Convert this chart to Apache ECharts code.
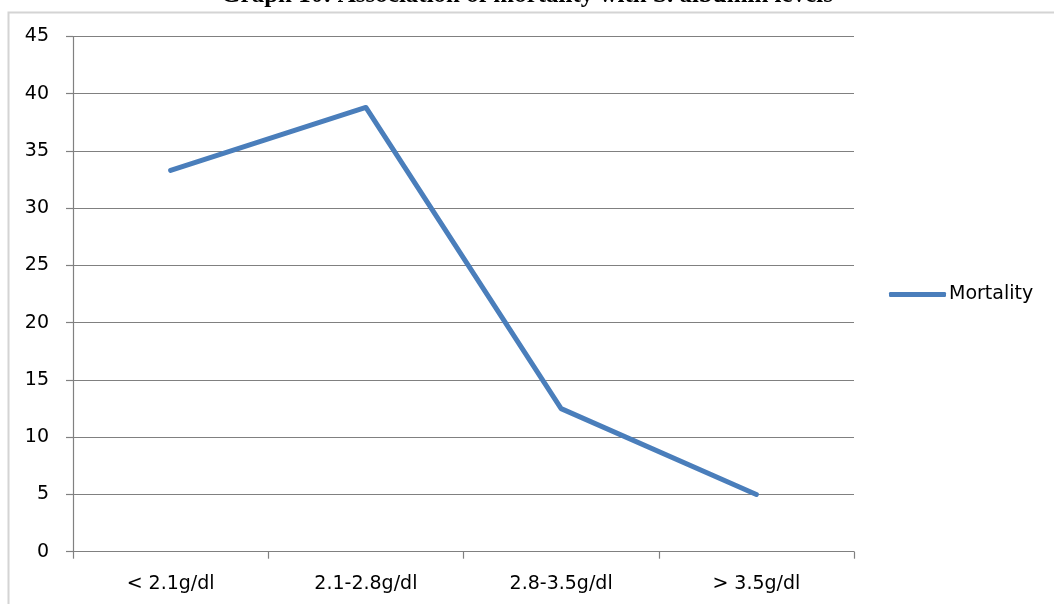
<!DOCTYPE html>
<html>
<head>
<meta charset="utf-8">
<script src="https://cdn.jsdelivr.net/npm/echarts@6/dist/echarts.min.js"></script>
<style>html,body{margin:0;padding:0;background:#fff;}#c{width:1054px;height:604px;}</style>
</head>
<body>
<div id="c"></div>
<script>
var titleText = 'Graph 10: Association of mortality with S. albumin levels';
var categories = ['< 2.1g/dl', '2.1-2.8g/dl', '2.8-3.5g/dl', '> 3.5g/dl'];
var seriesName = 'Mortality';
var mortality = [33.3, 38.8, 12.5, 5];
var yTicks = [0, 5, 10, 15, 20, 25, 30, 35, 40, 45];

var chart = echarts.init(document.getElementById('c'), null, {renderer: 'canvas'});
var labelFont = {fontFamily: 'DejaVu Sans', fontSize: 19, color: '#000'};
chart.setOption({
  animation: false,
  backgroundColor: '#fff',
  graphic: [
    {type: 'rect', shape: {x: 8.5, y: 12.5, width: 1200, height: 800}, style: {fill: 'none', stroke: '#d4d4d4', lineWidth: 2}, silent: true, z: -1},
    {type: 'text', x: 527, y: 8, style: {text: titleText, textAlign: 'center', textVerticalAlign: 'bottom', fontFamily: 'Liberation Serif', fontWeight: 'bold', fontSize: 25, fill: '#000'}}
  ],
  grid: {left: 73, right: 200, top: 36.5, bottom: 52.3, containLabel: false},
  legend: {
    data: [seriesName],
    orient: 'vertical',
    left: 889,
    top: 285,
    padding: 0,
    itemWidth: 57,
    itemHeight: 5,
    itemGap: 4,
    textStyle: {fontFamily: 'DejaVu Sans', fontSize: 19, color: '#000', padding: [0, 0, 0, -2]},
    icon: 'roundRect'
  },
  xAxis: {
    type: 'category',
    data: categories,
    boundaryGap: true,
    axisLine: {show: true, lineStyle: {color: '#808080', width: 1.2}},
    axisTick: {show: true, length: 7, lineStyle: {color: '#808080', width: 1.2}, alignWithLabel: false},
    axisLabel: Object.assign({margin: 23}, labelFont),
    splitLine: {show: false}
  },
  yAxis: {
    type: 'value',
    min: yTicks[0],
    max: yTicks[yTicks.length - 1],
    interval: 5,
    axisLine: {show: true, lineStyle: {color: '#808080', width: 1.2}},
    axisTick: {show: true, length: 7, lineStyle: {color: '#808080', width: 1.2}},
    axisLabel: Object.assign({margin: 24}, labelFont),
    splitLine: {show: true, lineStyle: {color: '#808080', width: 1.2}}
  },
  series: [{
    name: seriesName,
    type: 'line',
    data: mortality,
    symbol: 'none',
    showSymbol: false,
    color: '#4a7ebb',
    lineStyle: {color: '#4a7ebb', width: 5, cap: 'round', join: 'round'},
    itemStyle: {color: '#4a7ebb'}
  }]
});
</script>
</body>
</html>
